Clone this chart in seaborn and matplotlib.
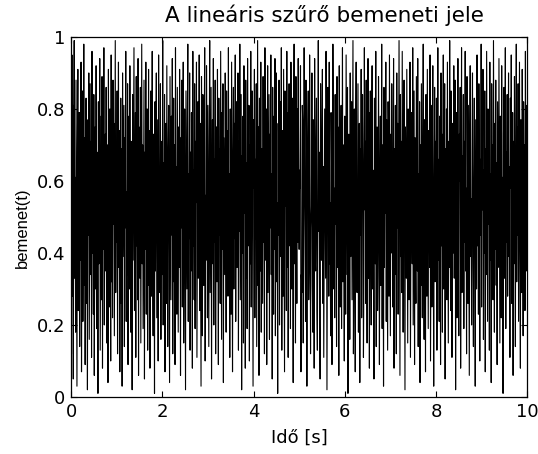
import numpy as np
import pandas as pd
import matplotlib
matplotlib.use("Agg")
import matplotlib.pyplot as plt
import seaborn as sns

# --- adatok: a bemeneti jel mintái (kézzel becsült értékek, dt = 0.01 s) ---
bemenet = [
    0.97, 0.12, 0.95, 0.28, 0.81, 0.05, 0.74, 0.99, 0.33, 0.61, 0.18, 0.88, 0.42, 0.03, 0.69, 0.91, 0.24, 0.57, 0.79, 0.14,
    0.66, 0.38, 0.93, 0.07, 0.52, 0.85, 0.21, 0.47, 0.98, 0.31, 0.72, 0.09, 0.58, 0.83, 0.26, 0.64, 0.02, 0.77, 0.45, 0.90,
    0.16, 0.55, 0.87, 0.34, 0.71, 0.11, 0.96, 0.40, 0.62, 0.23, 0.84, 0.06, 0.49, 0.75, 0.30, 0.92, 0.19, 0.68, 0.53, 0.01,
    0.82, 0.37, 0.60, 0.94, 0.13, 0.46, 0.78, 0.27, 0.89, 0.08, 0.63, 0.41, 0.97, 0.20, 0.56, 0.73, 0.35, 0.86, 0.15, 0.50,
    0.70, 0.04, 0.91, 0.44, 0.25, 0.80, 0.59, 0.10, 0.95, 0.32, 0.67, 0.22, 0.88, 0.48, 0.76, 0.17, 0.54, 0.99, 0.29, 0.65,
    0.43, 0.85, 0.12, 0.61, 0.93, 0.36, 0.74, 0.07, 0.51, 0.83, 0.26, 0.69, 0.03, 0.90, 0.39, 0.58, 0.81, 0.14, 0.72, 0.47,
    0.96, 0.21, 0.57, 0.34, 0.87, 0.09, 0.64, 0.78, 0.30, 0.92, 0.45, 0.18, 0.71, 0.55, 0.02, 0.84, 0.38, 0.66, 0.97, 0.24,
    0.52, 0.79, 0.11, 0.89, 0.42, 0.63, 0.27, 0.94, 0.06, 0.75, 0.49, 0.33, 0.86, 0.15, 0.60, 0.98, 0.37, 0.70, 0.19, 0.53,
    0.88, 0.05, 0.68, 0.41, 0.93, 0.23, 0.57, 0.80, 0.13, 0.46, 0.91, 0.31, 0.74, 0.08, 0.62, 0.85, 0.28, 0.54, 0.96, 0.40,
    0.17, 0.73, 0.59, 0.01, 0.82, 0.35, 0.67, 0.90, 0.22, 0.48, 0.77, 0.10, 0.95, 0.44, 0.29, 0.63, 0.87, 0.16, 0.56, 0.71,
    0.34, 0.99, 0.20, 0.65, 0.43, 0.84, 0.07, 0.58, 0.76, 0.26, 0.92, 0.50, 0.14, 0.69, 0.81, 0.38, 0.04, 0.89, 0.61, 0.27,
    0.78, 0.45, 0.94, 0.12, 0.55, 0.83, 0.32, 0.70, 0.09, 0.97, 0.41, 0.64, 0.23, 0.86, 0.52, 0.18, 0.75, 0.36, 0.91, 0.60,
    0.06, 0.72, 0.47, 0.88, 0.25, 0.66, 0.93, 0.15, 0.53, 0.80, 0.39, 0.02, 0.85, 0.57, 0.30, 0.74, 0.98, 0.21, 0.62, 0.44,
    0.90, 0.13, 0.68, 0.35, 0.79, 0.51, 0.08, 0.96, 0.42, 0.63, 0.27, 0.87, 0.19, 0.71, 0.54, 0.93, 0.11, 0.46, 0.82, 0.33,
    0.59, 0.95, 0.24, 0.76, 0.40, 0.03, 0.89, 0.65, 0.17, 0.84, 0.49, 0.31, 0.73, 0.97, 0.10, 0.56, 0.38, 0.92, 0.67, 0.22,
    0.81, 0.48, 0.14, 0.70, 0.99, 0.29, 0.61, 0.86, 0.05, 0.52, 0.77, 0.37, 0.94, 0.20, 0.66, 0.43, 0.88, 0.12, 0.58, 0.75,
    0.32, 0.91, 0.55, 0.09, 0.83, 0.45, 0.69, 0.26, 0.96, 0.60, 0.16, 0.79, 0.41, 0.87, 0.04, 0.72, 0.53, 0.34, 0.90, 0.64,
    0.18, 0.85, 0.47, 0.74, 0.28, 0.97, 0.39, 0.62, 0.11, 0.80, 0.57, 0.23, 0.93, 0.50, 0.07, 0.68, 0.86, 0.30, 0.76, 0.44,
    0.95, 0.21, 0.63, 0.82, 0.36, 0.54, 0.90, 0.13, 0.71, 0.46, 0.98, 0.27, 0.59, 0.84, 0.02, 0.67, 0.40, 0.78, 0.15, 0.92,
    0.51, 0.73, 0.08, 0.88, 0.33, 0.65, 0.19, 0.94, 0.56, 0.42, 0.81, 0.10, 0.70, 0.37, 0.96, 0.25, 0.61, 0.85, 0.48, 0.03,
    0.77, 0.58, 0.91, 0.22, 0.66, 0.44, 0.87, 0.14, 0.52, 0.99, 0.31, 0.75, 0.06, 0.83, 0.60, 0.35, 0.93, 0.18, 0.69, 0.49,
    0.26, 0.89, 0.43, 0.71, 0.12, 0.97, 0.55, 0.38, 0.80, 0.09, 0.64, 0.92, 0.29, 0.57, 0.84, 0.16, 0.73, 0.47, 0.95, 0.34,
    0.62, 0.05, 0.86, 0.50, 0.23, 0.78, 0.41, 0.94, 0.17, 0.68, 0.90, 0.32, 0.54, 0.01, 0.76, 0.45, 0.88, 0.20, 0.63, 0.82,
    0.39, 0.97, 0.13, 0.59, 0.74, 0.28, 0.91, 0.46, 0.07, 0.85, 0.53, 0.67, 0.24, 0.96, 0.36, 0.79, 0.11, 0.61, 0.87, 0.42,
    0.70, 0.19, 0.93, 0.55, 0.30, 0.83, 0.48, 0.04, 0.72, 0.98, 0.37, 0.65, 0.15, 0.89, 0.51, 0.26, 0.80, 0.43, 0.94, 0.58,
    0.41, 0.63, 0.58, 0.92, 0.07, 0.34, 0.29, 0.81, 0.76, 0.15, 0.50, 0.97, 0.62, 0.44, 0.21, 0.88, 0.69, 0.03, 0.56, 0.73,
    0.85, 0.27, 0.39, 0.95, 0.60, 0.12, 0.47, 0.53, 0.90, 0.31, 0.18, 0.77, 0.66, 0.08, 0.94, 0.42, 0.35, 0.71, 0.83, 0.24,
    0.13, 0.59, 0.99, 0.46, 0.68, 0.20, 0.05, 0.87, 0.52, 0.38, 0.74, 0.91, 0.26, 0.64, 0.11, 0.49, 0.80, 0.57, 0.33, 0.96,
    0.70, 0.02, 0.45, 0.86, 0.61, 0.28, 0.93, 0.37, 0.54, 0.17, 0.79, 0.65, 0.09, 0.43, 0.98, 0.72, 0.30, 0.58, 0.22, 0.84,
    0.48, 0.67, 0.14, 0.89, 0.36, 0.75, 0.55, 0.06, 0.92, 0.40, 0.25, 0.63, 0.81, 0.19, 0.51, 0.97, 0.32, 0.70, 0.44, 0.10,
    0.78, 0.57, 0.23, 0.95, 0.62, 0.34, 0.86, 0.01, 0.47, 0.73, 0.68, 0.16, 0.90, 0.39, 0.55, 0.82, 0.27, 0.64, 0.99, 0.12,
    0.35, 0.80, 0.50, 0.07, 0.74, 0.93, 0.42, 0.29, 0.61, 0.87, 0.18, 0.53, 0.76, 0.04, 0.69, 0.45, 0.91, 0.22, 0.58, 0.84,
    0.66, 0.11, 0.38, 0.97, 0.52, 0.71, 0.26, 0.88, 0.43, 0.15, 0.60, 0.94, 0.33, 0.79, 0.08, 0.56, 0.85, 0.47, 0.20, 0.72,
    0.92, 0.30, 0.63, 0.49, 0.05, 0.83, 0.57, 0.37, 0.96, 0.14, 0.68, 0.75, 0.24, 0.41, 0.89, 0.62, 0.09, 0.54, 0.78, 0.31,
    0.46, 0.98, 0.19, 0.70, 0.59, 0.03, 0.86, 0.36, 0.64, 0.51, 0.93, 0.21, 0.77, 0.44, 0.13, 0.82, 0.67, 0.28, 0.95, 0.55,
    0.17, 0.73, 0.40, 0.87, 0.61, 0.25, 0.50, 0.94, 0.08, 0.69, 0.34, 0.81, 0.58, 0.12, 0.90, 0.47, 0.76, 0.23, 0.65, 0.99,
    0.52, 0.06, 0.84, 0.39, 0.71, 0.29, 0.96, 0.56, 0.18, 0.63, 0.88, 0.42, 0.02, 0.75, 0.60, 0.33, 0.91, 0.48, 0.15, 0.80,
    0.68, 0.27, 0.54, 0.93, 0.11, 0.45, 0.79, 0.64, 0.37, 0.97, 0.20, 0.57, 0.85, 0.09, 0.72, 0.43, 0.26, 0.89, 0.61, 0.35,
    0.94, 0.14, 0.62, 0.48, 0.82, 0.04, 0.70, 0.31, 0.87, 0.53, 0.22, 0.66, 0.98, 0.40, 0.16, 0.77, 0.59, 0.07, 0.84, 0.46,
    0.28, 0.91, 0.55, 0.19, 0.74, 0.63, 0.36, 0.95, 0.10, 0.49, 0.81, 0.25, 0.68, 0.92, 0.44, 0.03, 0.57, 0.86, 0.32, 0.71,
    0.60, 0.83, 0.13, 0.47, 0.97, 0.38, 0.66, 0.21, 0.78, 0.54, 0.09, 0.90, 0.42, 0.73, 0.18, 0.62, 0.95, 0.30, 0.51, 0.87,
    0.05, 0.69, 0.44, 0.80, 0.27, 0.93, 0.58, 0.15, 0.71, 0.36, 0.99, 0.48, 0.24, 0.85, 0.64, 0.11, 0.76, 0.53, 0.40, 0.92,
    0.33, 0.57, 0.88, 0.02, 0.65, 0.79, 0.22, 0.50, 0.94, 0.41, 0.17, 0.73, 0.60, 0.86, 0.08, 0.46, 0.97, 0.29, 0.67, 0.52,
    0.84, 0.19, 0.71, 0.43, 0.96, 0.35, 0.58, 0.12, 0.89, 0.64, 0.26, 0.81, 0.47, 0.06, 0.75, 0.92, 0.39, 0.55, 0.20, 0.68,
    0.90, 0.37, 0.14, 0.61, 0.83, 0.49, 0.03, 0.77, 0.56, 0.30, 0.95, 0.42, 0.70, 0.23, 0.87, 0.59, 0.10, 0.66, 0.45, 0.98,
    0.25, 0.74, 0.52, 0.91, 0.16, 0.63, 0.40, 0.85, 0.07, 0.69, 0.34, 0.96, 0.57, 0.21, 0.80, 0.48, 0.72, 0.13, 0.93, 0.38,
    0.62, 0.04, 0.87, 0.46, 0.70, 0.27, 0.99, 0.54, 0.18, 0.76, 0.41, 0.88, 0.31, 0.65, 0.09, 0.82, 0.59, 0.36, 0.94, 0.50,
    0.15, 0.78, 0.67, 0.22, 0.92, 0.44, 0.61, 0.01, 0.73, 0.86, 0.33, 0.55, 0.97, 0.19, 0.68, 0.43, 0.84, 0.28, 0.51, 0.90,
    0.39, 0.64, 0.11, 0.83, 0.58, 0.95, 0.26, 0.47, 0.79, 0.06, 0.71, 0.37, 0.89, 0.53, 0.14, 0.66, 0.98, 0.32, 0.75, 0.45,
    0.87, 0.21, 0.60, 0.93, 0.40, 0.08, 0.77, 0.56, 0.29, 0.91, 0.63, 0.17, 0.82, 0.48, 0.70, 0.24, 0.96, 0.52, 0.35, 0.81,
    0.58,
]
ido = [i * 0.01 for i in range(len(bemenet))]

x_ticks = [0, 2, 4, 6, 8, 10]
y_ticks = [0, 0.2, 0.4, 0.6, 0.8, 1]
y_ticklabels = ["0", "0.2", "0.4", "0.6", "0.8", "1"]

# --- stílus (MATLAB-szerű doboz, befelé álló jelölők) ---
sns.set_theme(style="white", rc={
    "xtick.direction": "in", "ytick.direction": "in",
    "xtick.top": True, "ytick.right": True,
    "xtick.bottom": True, "ytick.left": True,
    "xtick.major.size": 4, "ytick.major.size": 4,
    "xtick.major.width": 0.8, "ytick.major.width": 0.8,
    "xtick.color": "black", "ytick.color": "black",
    "text.color": "black", "axes.labelcolor": "black",
    "axes.edgecolor": "black", "axes.linewidth": 0.9,
})
plt.rcParams["font.family"] = ["DejaVu Sans"]

df = pd.DataFrame({"t": ido, "bemenet": bemenet})

fig = plt.figure(figsize=(5.38, 4.54), dpi=100)
ax = fig.add_axes([0.132, 0.1256, 0.848, 0.793])
sns.lineplot(data=df, x="t", y="bemenet", ax=ax, color="black", linewidth=0.8, estimator=None)

ax.set_xlim(0, 10)
ax.set_ylim(0, 1)
ax.set_xticks(x_ticks)
ax.set_xticklabels([str(v) for v in x_ticks])
ax.set_yticks(y_ticks)
ax.set_yticklabels(y_ticklabels)
ax.tick_params(labelsize=13, colors="black", pad=4)
ax.set_xlabel("Idő [s]", fontsize=13, labelpad=6)
ax.set_ylabel("bemenet(t)", fontsize=12, labelpad=5, y=0.469, family="Liberation Sans")
ax.set_title("A lineáris szűrő bemeneti jele", fontsize=15.5, pad=11, x=0.555)

fig.savefig("out.png", dpi=100)
